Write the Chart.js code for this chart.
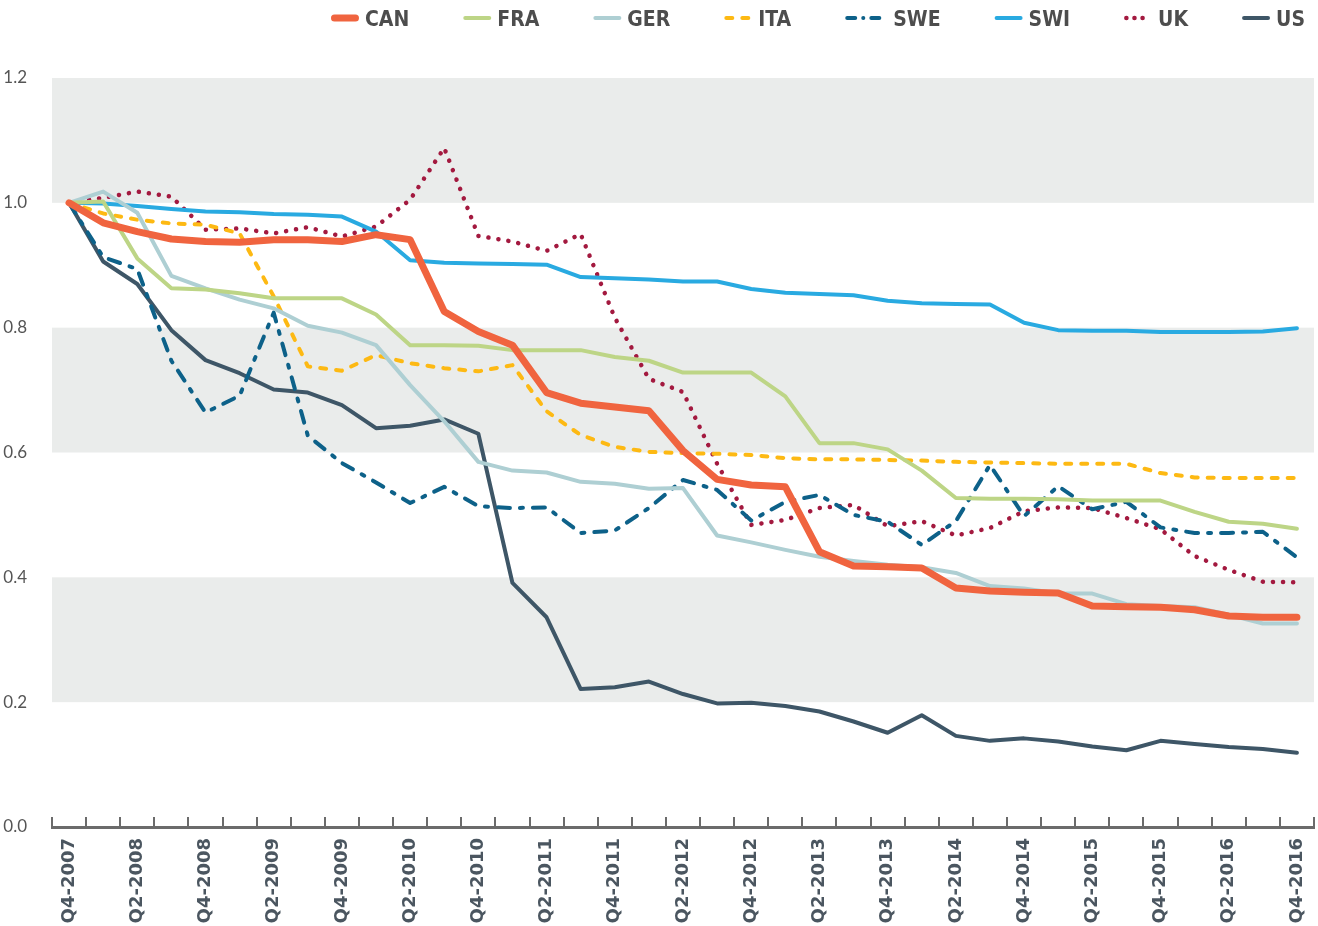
<!DOCTYPE html>
<html>
<head>
<meta charset="utf-8">
<script src="https://cdn.jsdelivr.net/npm/chart.js@4.4.1/dist/chart.umd.min.js"></script>
<style>
  html, body { margin: 0; padding: 0; background: #ffffff; }
  #wrap { width: 1318px; height: 926px; position: relative; }
</style>
</head>
<body>
<div id="wrap"><canvas id="c"></canvas></div>
<script>
// ---------- data ----------
const quarters = ["Q4-2007","Q1-2008","Q2-2008","Q3-2008","Q4-2008","Q1-2009","Q2-2009","Q3-2009","Q4-2009",
  "Q1-2010","Q2-2010","Q3-2010","Q4-2010","Q1-2011","Q2-2011","Q3-2011","Q4-2011","Q1-2012","Q2-2012",
  "Q3-2012","Q4-2012","Q1-2013","Q2-2013","Q3-2013","Q4-2013","Q1-2014","Q2-2014","Q3-2014","Q4-2014",
  "Q1-2015","Q2-2015","Q3-2015","Q4-2015","Q1-2016","Q2-2016","Q3-2016","Q4-2016"];
const shownTickLabels = ["Q4-2007","Q2-2008","Q4-2008","Q2-2009","Q4-2009","Q2-2010","Q4-2010","Q2-2011",
  "Q4-2011","Q2-2012","Q4-2012","Q2-2013","Q4-2013","Q2-2014","Q4-2014","Q2-2015","Q4-2015","Q2-2016","Q4-2016"];
const seriesNames = ["CAN","FRA","GER","ITA","SWE","SWI","UK","US"];

const CAN = [1.0, 0.968, 0.954, 0.942, 0.938, 0.937, 0.941, 0.941, 0.938, 0.949, 0.941, 0.826, 0.794, 0.772, 0.696, 0.679, 0.673, 0.667, 0.603, 0.557, 0.548, 0.545, 0.441, 0.418, 0.417, 0.415, 0.383, 0.378, 0.376, 0.375, 0.354, 0.353, 0.352, 0.348, 0.338, 0.336, 0.336];
const FRA = [1.0, 1.002, 0.911, 0.863, 0.861, 0.855, 0.847, 0.847, 0.847, 0.821, 0.772, 0.772, 0.771, 0.764, 0.764, 0.764, 0.753, 0.747, 0.728, 0.728, 0.728, 0.690, 0.615, 0.615, 0.605, 0.571, 0.527, 0.526, 0.526, 0.525, 0.523, 0.523, 0.523, 0.505, 0.489, 0.486, 0.478];
const GER = [1.0, 1.018, 0.984, 0.883, 0.863, 0.845, 0.831, 0.803, 0.792, 0.772, 0.708, 0.650, 0.585, 0.571, 0.568, 0.553, 0.550, 0.542, 0.543, 0.467, 0.456, 0.444, 0.433, 0.426, 0.420, 0.416, 0.407, 0.386, 0.382, 0.374, 0.374, 0.357, 0.354, 0.352, 0.340, 0.326, 0.326];
const ITA = [1.0, 0.983, 0.973, 0.967, 0.965, 0.951, 0.850, 0.738, 0.731, 0.756, 0.743, 0.735, 0.730, 0.740, 0.666, 0.628, 0.609, 0.601, 0.599, 0.598, 0.596, 0.591, 0.589, 0.589, 0.588, 0.587, 0.585, 0.584, 0.583, 0.582, 0.582, 0.582, 0.567, 0.560, 0.559, 0.559, 0.559];
const SWE = [1.0, 0.913, 0.894, 0.747, 0.664, 0.691, 0.824, 0.627, 0.583, 0.552, 0.519, 0.545, 0.514, 0.511, 0.512, 0.471, 0.475, 0.511, 0.556, 0.540, 0.491, 0.521, 0.532, 0.500, 0.489, 0.452, 0.490, 0.580, 0.498, 0.546, 0.509, 0.521, 0.480, 0.471, 0.471, 0.473, 0.432];
const SWI = [1.0, 0.999, 0.995, 0.990, 0.986, 0.985, 0.982, 0.981, 0.978, 0.954, 0.908, 0.904, 0.903, 0.902, 0.901, 0.881, 0.879, 0.877, 0.874, 0.874, 0.862, 0.856, 0.854, 0.852, 0.843, 0.839, 0.838, 0.837, 0.808, 0.796, 0.795, 0.795, 0.793, 0.793, 0.793, 0.794, 0.799];
const UK  = [1.0, 1.008, 1.018, 1.010, 0.957, 0.959, 0.951, 0.961, 0.946, 0.962, 1.005, 1.088, 0.947, 0.938, 0.923, 0.950, 0.816, 0.718, 0.697, 0.582, 0.484, 0.492, 0.511, 0.516, 0.482, 0.490, 0.467, 0.479, 0.506, 0.512, 0.511, 0.495, 0.477, 0.434, 0.412, 0.393, 0.392];
const US  = [1.0, 0.906, 0.870, 0.796, 0.748, 0.727, 0.701, 0.696, 0.676, 0.639, 0.643, 0.653, 0.630, 0.391, 0.336, 0.221, 0.224, 0.233, 0.213, 0.198, 0.199, 0.194, 0.185, 0.169, 0.151, 0.179, 0.146, 0.138, 0.142, 0.137, 0.129, 0.123, 0.138, 0.133, 0.128, 0.125, 0.119];

const yTickStep = 0.2;
const yMin = 0, yMax = 1.2;
const shadedBands = [[0.2, 0.4], [0.6, 0.8], [1.0, 1.2]];

// ---------- styles ----------
const styles = {
  CAN: { color: '#f0643f', width: 7,   dash: [] },
  FRA: { color: '#bdd586', width: 4,   dash: [] },
  GER: { color: '#aecfd3', width: 4,   dash: [] },
  ITA: { color: '#fdb913', width: 4,   dash: [6, 10] },
  SWE: { color: '#0d6189', width: 4,   dash: [12, 10, 3, 10], legendLen: 42, legendDash: [8, 8, 0.1, 8] },
  SWI: { color: '#29aae1', width: 4,   dash: [] },
  UK:  { color: '#a3193f', width: 4.5, dash: [0.1, 10], legendDash: [0.1, 8] },
  US:  { color: '#3e5667', width: 4,   dash: [] }
};
const seriesData = { CAN, FRA, GER, ITA, SWE, SWI, UK, US };

const datasets = seriesNames.map(name => ({
  label: name,
  data: seriesData[name],
  borderColor: styles[name].color,
  backgroundColor: styles[name].color,
  borderWidth: styles[name].width,
  borderDash: styles[name].dash,
  borderCapStyle: 'round',
  borderJoinStyle: 'round',
  pointRadius: 0,
  pointHoverRadius: 0,
  tension: 0,
  fill: false,
  legendLen: styles[name].legendLen || 28,
  legendDash: styles[name].legendDash || styles[name].dash
}));

// ---------- plugins ----------
const bandsPlugin = {
  id: 'bands',
  beforeDraw(chart) {
    const { ctx, chartArea, scales } = chart;
    if (!chartArea) return;
    const y = scales.y;
    ctx.save();
    ctx.fillStyle = '#eaeceb';
    shadedBands.forEach(([a, b]) => {
      const y1 = y.getPixelForValue(b);
      const y2 = y.getPixelForValue(a);
      ctx.fillRect(chartArea.left, y1, chartArea.right - chartArea.left, y2 - y1);
    });
    ctx.restore();
  }
};

const legendPlugin = {
  id: 'lineLegend',
  afterDraw(chart) {
    const ctx = chart.ctx;
    ctx.save();
    ctx.font = "bold 21px 'DejaVu Sans Condensed', 'DejaVu Sans', sans-serif";
    ctx.textBaseline = 'alphabetic';
    ctx.textAlign = 'left';
    const baseY = 26, lineY = 18, gapText = 6, gapItem = 54;
    let x = chart.width - 13;
    const ds = chart.data.datasets;
    for (let i = ds.length - 1; i >= 0; i--) {
      const d = ds[i];
      const w = ctx.measureText(d.label).width;
      const tx = x - w;
      ctx.fillStyle = '#4d4d4d';
      ctx.fillText(d.label, tx, baseY);
      const sx2 = tx - gapText;
      const sx1 = sx2 - d.legendLen;
      const lw = d.borderWidth;
      ctx.strokeStyle = d.borderColor;
      ctx.lineWidth = lw;
      ctx.lineCap = 'round';
      ctx.setLineDash(d.legendDash);
      ctx.beginPath();
      ctx.moveTo(sx1 + lw / 2, lineY);
      ctx.lineTo(sx2 - lw / 2, lineY);
      ctx.stroke();
      x = sx1 - gapItem;
    }
    ctx.restore();
  }
};

// ---------- chart ----------
new Chart(document.getElementById('c'), {
  type: 'line',
  data: { labels: quarters, datasets },
  options: {
    responsive: true,
    maintainAspectRatio: false,
    animation: false,
    events: [],
    layout: { padding: { top: 78, right: 4, left: 0, bottom: 0 } },
    plugins: {
      legend: { display: false },
      tooltip: { enabled: false },
      title: { display: false }
    },
    scales: {
      x: {
        type: 'category',
        offset: true,
        grid: {
          display: true,
          offset: true,
          drawOnChartArea: false,
          drawTicks: true,
          tickLength: -10,
          color: '#6b6b6b',
          lineWidth: 2
        },
        border: { display: true, color: '#6b6b6b', width: 3 },
        ticks: {
          autoSkip: false,
          minRotation: 90,
          maxRotation: 90,
          padding: 21,
          color: '#4b5660',
          font: { family: "'DejaVu Sans'", size: 18, weight: 'bold' },
          callback: function (value) {
            const lab = this.getLabelForValue(value);
            return shownTickLabels.includes(lab) ? lab : '';
          }
        },
        afterFit(scale) {
          scale.height = 99;
          scale.paddingLeft = 0;
          scale.paddingRight = 0;
        }
      },
      y: {
        min: yMin,
        max: yMax,
        grid: { display: false },
        border: { display: false },
        ticks: {
          stepSize: yTickStep,
          padding: 17,
          color: '#555555',
          font: { family: 'Lato', size: 17 },
          callback: v => Number(v).toFixed(1)
        },
        afterFit(scale) { scale.width = 52; }
      }
    }
  },
  plugins: [bandsPlugin, legendPlugin]
});
</script>
</body>
</html>
